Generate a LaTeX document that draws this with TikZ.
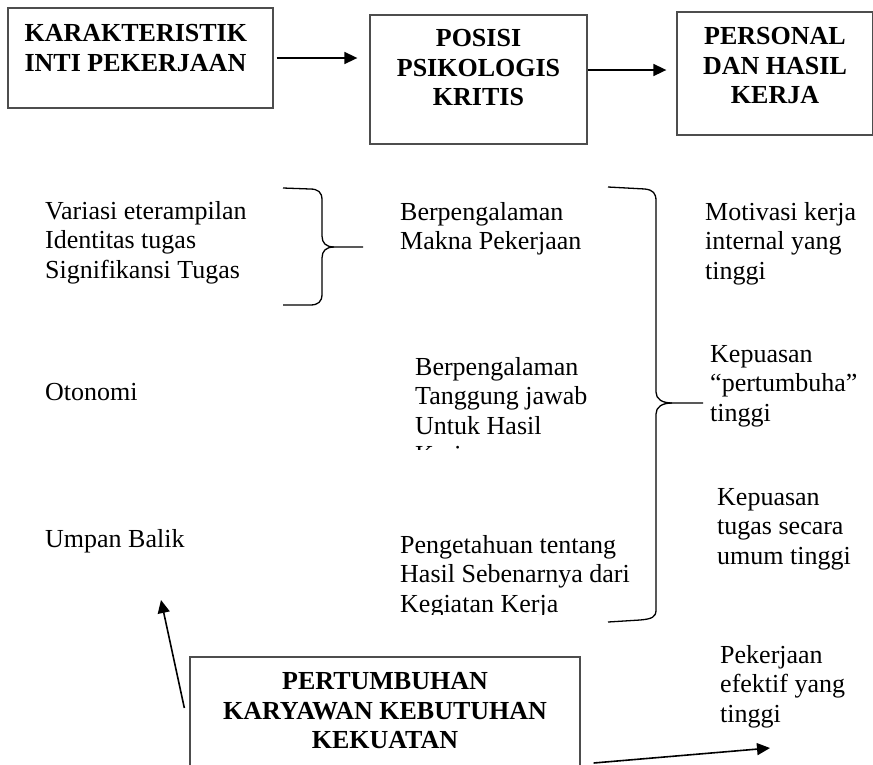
\documentclass[tikz,border=0pt]{standalone}
\usepackage{fontspec}
\setmainfont{Liberation Serif}
\usepackage{tikz}
\usetikzlibrary{arrows.meta, positioning}
\definecolor{boxline}{HTML}{4D4D4D}
\newcommand{\bodysize}{\fontsize{26}{29.5}\selectfont}

\begin{document}
\begin{tikzpicture}[x=1pt, y=-1pt,
  frame/.style={rectangle, draw=boxline, line width=1.3pt, inner sep=0pt},
  title/.style={font=\bodysize\bfseries, align=center, inner sep=0pt},
  txt/.style={font=\bodysize, align=left, inner sep=0pt, anchor=north west},
  arrow/.style={-{Triangle[length=13pt, width=12pt]}, line width=1.6pt},
  brace/.style={line width=1.3pt, line join=round}
]
  \useasboundingbox (0,0) rectangle (873,764);

  % the three boxes on top and the one below
  \node[frame, minimum width=265pt, minimum height=100pt] (karak) at (140.5,58) {};
  \node[frame, minimum width=217pt, minimum height=129pt] (posisi) at (478.5,79.5) {};
  \node[frame, minimum width=196pt, minimum height=123pt] (personal) at (775,73.5) {};
  \node[frame, minimum width=390pt, minimum height=120pt] (grow) at (385,717) {};

  \node[title, align=left, below right=13.4pt and 17pt of karak.north west] (karaktitle)
    {\strut KARAKTERISTIK\\INTI PEKERJAAN};
  \node[title, below=11.4pt of posisi.north] (posisititle)
    {\strut POSISI\\PSIKOLOGIS\\KRITIS};
  \node[title, below=12.4pt of personal.north] (personaltitle)
    {\strut PERSONAL\\DAN HASIL\\KERJA};
  \node[title, below=12.4pt of grow.north] (growtitle)
    {\strut PERTUMBUHAN\\KARYAWAN KEBUTUHAN\\KEKUATAN};

  % left column
  \node[txt] (variasi) at (45,198.4)
    {\strut Variasi eterampilan\\Identitas tugas\\Signifikansi Tugas};
  \node[txt] (otonomi) at (45,379.4) {\strut Otonomi};
  \node[txt] (umpan) at (45,526.4) {\strut Umpan Balik};

  % middle column
  \node[txt] (makna) at (400,199.4)
    {\strut Berpengalaman\\Makna Pekerjaan};
  \begin{scope}
    \clip (390,340) rectangle (660,449.5);
    \node[txt] (tanggung) at (415,354.4)
      {\strut Berpengalaman\\Tanggung jawab\\Untuk Hasil\\Kerja};
  \end{scope}
  \begin{scope}
    \clip (390,520) rectangle (660,614);
    \node[txt] (pengetahuan) at (400,532.4)
      {\strut Pengetahuan tentang\\Hasil Sebenarnya dari\\Kegiatan Kerja};
  \end{scope}

  % right column
  \node[txt] (motivasi) at (705,199.4)
    {\strut Motivasi kerja\\internal yang\\tinggi};
  \node[txt] (tumbuh) at (710,341.4)
    {\strut Kepuasan\\``pertumbuha''\\tinggi};
  \node[txt] (umum) at (717,484.4)
    {\strut Kepuasan\\tugas secara\\umum tinggi};
  \node[txt] (efektif) at (720,642.4)
    {\strut Pekerjaan\\efektif yang\\tinggi};

  % braces
  \draw[brace] (283,188) -- (310,189) .. controls (318,189) and (322,192) .. (322,200)
    -- (322,236) .. controls (322,243) and (326,247) .. (334,247) -- (363,247);
  \draw[brace] (334,247) .. controls (326,247) and (322,251) .. (322,258)
    -- (322,294) .. controls (322,302) and (318,305) .. (310,305) -- (283,305);
  \draw[brace] (608,187) -- (645,189) .. controls (653,190) and (656,193) .. (656,201)
    -- (656,392) .. controls (656,399) and (662,403) .. (672,403) -- (703,403);
  \draw[brace] (672,403) .. controls (662,403) and (656,407) .. (656,414)
    -- (656,610) .. controls (656,617) and (652,619) .. (640,620) -- (608,622);

  % arrows
  \coordinate (fbtip) at (161,600);
  \coordinate (eftip) at (770,748);
  \draw[arrow, shorten <=3pt, shorten >=12pt] (karak.east) -- (karak.east -| posisi.west);
  \draw[arrow, shorten >=10pt] ([yshift=9.5pt]posisi.east) -- ([yshift=9.5pt]posisi.east -| personal.west);
  \draw[arrow] ([xshift=-5pt, yshift=9pt]grow.west) -- (fbtip);
  \draw[arrow] ([xshift=13pt, yshift=-46pt]grow.east) -- (eftip);
\end{tikzpicture}
\end{document}
